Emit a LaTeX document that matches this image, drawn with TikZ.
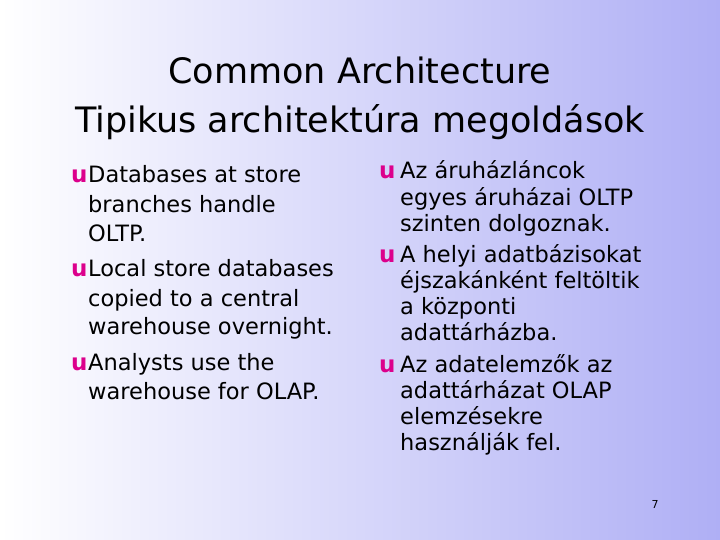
\documentclass[tikz,border=0pt]{standalone}
\usepackage{fontspec}
\setmainfont{DejaVu Sans}
\begin{document}
\begin{tikzpicture}[x=1pt,y=-1pt,
  body/.style={anchor=base west,inner sep=0pt,font=\fontsize{22.5}{24}\selectfont},
  bul/.style={anchor=base west,inner sep=0pt,text={rgb,255:red,220;green,0;blue,140},font=\bfseries\fontsize{23}{24}\selectfont},
  ttl/.style={anchor=base,inner sep=0pt,font=\fontsize{35}{38}\selectfont}]
\shade[left color=white,right color={rgb,255:red,175;green,175;blue,245}] (0,0) rectangle (720,540);
\useasboundingbox (0,0) rectangle (720,540);
\node[ttl] (t1) at (360,84) {Common Architecture};
\node[ttl] (t2) at (360,133) {Tipikus architektúra megoldások};
% left column
\node[bul] (lb1) at (71,183) {u};
\node[body] (l1) at (88,183) {Databases at store};
\node[body] (l2) at (88,212) {branches handle};
\node[body] (l3) at (88,241) {OLTP.};
\node[bul] (lb2) at (71,276) {u};
\node[body] (l4) at (88,276) {Local store databases};
\node[body] (l5) at (88,306) {copied to a central};
\node[body] (l6) at (88,334) {warehouse overnight.};
\node[bul] (lb3) at (71,370) {u};
\node[body] (l7) at (88,370) {Analysts use the};
\node[body] (l8) at (88,399) {warehouse for OLAP.};
% right column
\node[bul] (rb1) at (379,179) {u};
\node[body] (r1) at (400,179) {Az áruházláncok};
\node[body] (r2) at (400,206) {egyes áruházai OLTP};
\node[body] (r3) at (400,232) {szinten dolgoznak.};
\node[bul] (rb2) at (379,262) {u};
\node[body] (r4) at (400,262) {A helyi adatbázisokat};
\node[body] (r5) at (400,288) {éjszakánként feltöltik};
\node[body] (r6) at (400,314) {a központi};
\node[body] (r7) at (400,340) {adattárházba.};
\node[bul] (rb3) at (379,372) {u};
\node[body] (r8) at (400,372) {Az adatelemzők az};
\node[body] (r9) at (400,398) {adattárházat OLAP};
\node[body] (r10) at (400,424) {elemzésekre};
\node[body] (r11) at (400,450) {használják fel.};
\node[inner sep=0pt,font=\fontsize{11}{12}\selectfont] (pn) at (655,504) {7};
\end{tikzpicture}
\end{document}
